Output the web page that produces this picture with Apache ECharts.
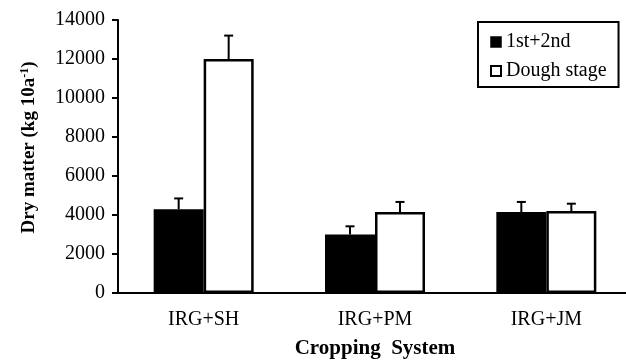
<!DOCTYPE html>
<html>
<head>
<meta charset="utf-8">
<script src="https://cdn.jsdelivr.net/npm/echarts@6/dist/echarts.min.js"></script>
<style>
  html, body { margin: 0; padding: 0; background: #fff; }
  #chart { width: 626px; height: 360px; }
</style>
</head>
<body>
<div id="chart"></div>
<script>
const categories = ['IRG+SH', 'IRG+PM', 'IRG+JM']
const firstSecond = [4300, 3000, 4150]
const firstSecondErr = [550, 420, 520]
const dough = [12000, 4150, 4200]
const doughErr = [1200, 520, 380]
const yTicks = [0, 2000, 4000, 6000, 8000, 10000, 12000, 14000]

const font = 'Liberation Serif'
const barW = 50

// error bars: a vertical line from bar top upward with a cap
function errorItem(offsetSign) {
  return function (params, api) {
    const idx = api.value(0)
    const val = api.value(1)
    const err = api.value(2)
    const base = api.coord([idx, val])
    const top = api.coord([idx, val + err])
    const x = base[0] + offsetSign * barW / 2
    const style = { stroke: '#000', lineWidth: 2 }
    return {
      type: 'group',
      children: [
        { type: 'line', shape: { x1: x, y1: base[1], x2: x, y2: top[1] }, style: style },
        { type: 'line', shape: { x1: x - 4.5, y1: top[1], x2: x + 4.5, y2: top[1] }, style: style }
      ]
    }
  }
}

const chart = echarts.init(document.getElementById('chart'))
const options = {
  backgroundColor: '#fff',
  animation: false,
  textStyle: { fontFamily: font },
  grid: { left: 118, right: -6, top: 20, bottom: 67, outerBoundsMode: 'none' },
  legend: {
    orient: 'vertical',
    left: 478,
    top: 22,
    padding: [10, 12, 6, 12],
    itemGap: 9,
    itemWidth: 10,
    itemHeight: 10,
    borderColor: '#000',
    borderWidth: 2,
    textStyle: { fontFamily: font, fontSize: 20, color: '#000' },
    data: [
      { name: '1st+2nd', icon: 'rect', itemStyle: { color: '#000', borderColor: '#000', borderWidth: 1.5 } },
      { name: 'Dough stage', icon: 'rect', itemStyle: { color: '#fff', borderColor: '#000', borderWidth: 2 } }
    ]
  },
  xAxis: {
    type: 'category',
    data: categories,
    name: 'Cropping  System',
    nameLocation: 'middle',
    nameGap: 45,
    nameTextStyle: { fontFamily: font, fontSize: 21, fontWeight: 'bold', color: '#000' },
    axisLine: { lineStyle: { color: '#000', width: 2 } },
    axisTick: { length: 6, lineStyle: { color: '#000', width: 2 } },
    axisLabel: { fontFamily: font, fontSize: 20, color: '#000', margin: 17 }
  },
  yAxis: {
    type: 'value',
    min: 0,
    max: 14000,
    interval: 2000,
    name: 'Dry matter (kg 10a{sup|-1})',
    nameLocation: 'middle',
    nameRotate: 90,
    nameGap: 78,
    nameTextStyle: {
      fontFamily: font, fontSize: 19, fontWeight: 'bold', color: '#000',
      padding: [0, 0, 0, 18],
      rich: { sup: { fontFamily: font, fontSize: 12, fontWeight: 'bold', color: '#000', verticalAlign: 'top', padding: [0, 0, 9, 0] } }
    },
    splitLine: { show: false },
    axisLine: { show: true, lineStyle: { color: '#000', width: 2 } },
    axisTick: { show: true, length: 6, lineStyle: { color: '#000', width: 2 } },
    axisLabel: {
      fontFamily: font, fontSize: 20, color: '#000', margin: 13,
      customValues: yTicks,
      formatter: v => String(v)
    }
  },
  series: [
    {
      name: '1st+2nd',
      type: 'bar',
      data: firstSecond,
      barWidth: barW,
      barGap: '0%',
      itemStyle: { color: '#000', borderColor: '#000', borderWidth: 1.5 }
    },
    {
      name: 'Dough stage',
      type: 'bar',
      data: dough,
      barWidth: barW,
      barGap: '0%',
      itemStyle: { color: '#fff', borderColor: '#000', borderWidth: 2.5 }
    },
    {
      type: 'custom',
      renderItem: errorItem(-1),
      data: firstSecond.map((v, i) => [i, v, firstSecondErr[i]]),
      z: 1
    },
    {
      type: 'custom',
      renderItem: errorItem(1),
      data: dough.map((v, i) => [i, v, doughErr[i]]),
      z: 1
    }
  ]
}
chart.setOption(options, true)
</script>
</body>
</html>
